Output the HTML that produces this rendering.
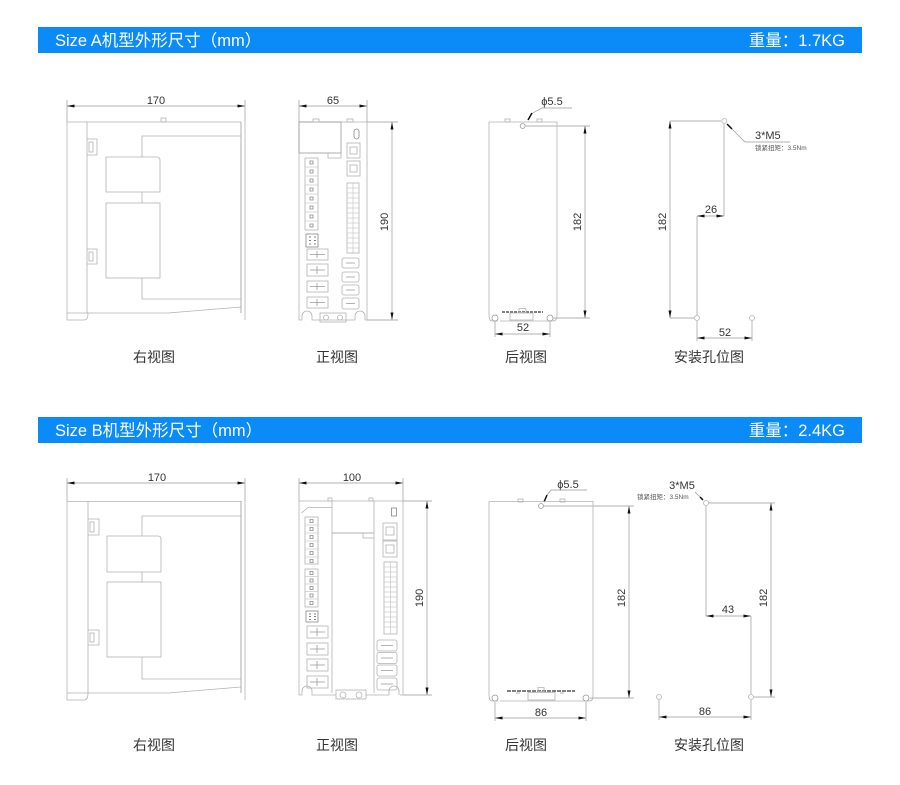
<!DOCTYPE html>
<html><head><meta charset="utf-8"><style>
html,body{margin:0;padding:0;background:#fff;}
svg{display:block;}
text{font-family:"Liberation Sans","Noto Sans CJK SC",sans-serif;}
</style></head><body>
<svg width="900" height="785" viewBox="0 0 900 785" xmlns="http://www.w3.org/2000/svg">
<defs>
<marker id="a" viewBox="0 0 10 4" refX="10" refY="2" markerWidth="8" markerHeight="3" markerUnits="userSpaceOnUse" orient="auto-start-reverse"><path d="M0,0 L10,2 L0,4 z" fill="#111"/></marker>
</defs>
<rect width="900" height="785" fill="#fff"/>

<!-- Headers -->
<rect x="38" y="27" width="824" height="26" fill="#0a8bf8"/>
<text x="55" y="46" font-size="16.5" fill="#fff">Size A机型外形尺寸（mm）</text>
<text x="845" y="46" font-size="16.5" fill="#fff" text-anchor="end">重量：1.7KG</text>
<rect x="38" y="417" width="824" height="26" fill="#0a8bf8"/>
<text x="55" y="436" font-size="16.5" fill="#fff">Size B机型外形尺寸（mm）</text>
<text x="845" y="436" font-size="16.5" fill="#fff" text-anchor="end">重量：2.4KG</text>

<!-- Labels -->
<g font-size="14" fill="#333" text-anchor="middle">
<text x="154" y="362">右视图</text><text x="337" y="362">正视图</text><text x="526" y="362">后视图</text><text x="709" y="362">安装孔位图</text>
<text x="154" y="750">右视图</text><text x="337" y="750">正视图</text><text x="526" y="750">后视图</text><text x="709" y="750">安装孔位图</text>
</g>

<g font-size="11" fill="#333" text-anchor="middle">
<text x="156" y="104">170</text>
<text x="333" y="104">65</text>
<text x="552" y="105">ϕ5.5</text>
<text x="523" y="331">52</text>
<text x="711" y="213">26</text>
<text x="725" y="336">52</text>
<text transform="translate(388,222) rotate(-90)">190</text>
<text transform="translate(581,222) rotate(-90)">182</text>
<text transform="translate(666,222) rotate(-90)">182</text>

<text x="157" y="481">170</text>
<text x="352" y="481">100</text>
<text x="568" y="488">ϕ5.5</text>
<text x="541" y="716">86</text>
<text x="728" y="613">43</text>
<text x="705" y="715">86</text>
<text x="682" y="489">3*M5</text>
<text transform="translate(423,598) rotate(-90)">190</text>
<text transform="translate(625,598) rotate(-90)">182</text>
<text transform="translate(767,598) rotate(-90)">182</text>
</g>
<text x="755" y="139" font-size="11" fill="#333">3*M5</text>
<text x="755" y="150" font-size="6.5" fill="#555">锁紧扭矩：3.5Nm</text>
<text x="637" y="499" font-size="6.5" fill="#555">锁紧扭矩：3.5Nm</text>

<!-- Dimension lines -->
<g stroke="#999" stroke-width="0.7" fill="none">
<line x1="67" y1="106" x2="245" y2="106" marker-start="url(#a)" marker-end="url(#a)"/>
<line x1="67" y1="100" x2="67" y2="122"/><line x1="245" y1="100" x2="245" y2="122"/>
<line x1="299" y1="106" x2="367" y2="106" marker-start="url(#a)" marker-end="url(#a)"/>
<line x1="299" y1="100" x2="299" y2="122"/><line x1="367" y1="100" x2="367" y2="122"/>
<line x1="392" y1="122" x2="392" y2="320" marker-start="url(#a)" marker-end="url(#a)"/>
<line x1="367" y1="122" x2="398" y2="122"/><line x1="367" y1="320" x2="398" y2="320"/>
<line x1="585" y1="126" x2="585" y2="318" marker-start="url(#a)" marker-end="url(#a)"/>
<line x1="526" y1="126" x2="590" y2="126"/><line x1="553" y1="318" x2="590" y2="318"/>
<line x1="495" y1="334" x2="550" y2="334" marker-start="url(#a)" marker-end="url(#a)"/>
<line x1="495" y1="321" x2="495" y2="337"/><line x1="550" y1="321" x2="550" y2="337"/>
<polyline points="531,114 542,108 572,108"/>
<!-- install A -->
<line x1="697" y1="216" x2="724" y2="216" marker-start="url(#a)" marker-end="url(#a)"/>
<line x1="724" y1="124" x2="724" y2="216"/><line x1="697" y1="216" x2="697" y2="315"/>
<line x1="670" y1="121" x2="670" y2="318" marker-start="url(#a)" marker-end="url(#a)"/>
<line x1="670" y1="121" x2="721" y2="121"/><line x1="670" y1="318" x2="694" y2="318"/>
<line x1="697" y1="338" x2="752" y2="338" marker-start="url(#a)" marker-end="url(#a)"/>
<line x1="697" y1="321" x2="697" y2="341"/><line x1="752" y1="321" x2="752" y2="341"/>
<polyline points="732,129 745,142 790,142"/>

<!-- B -->
<line x1="67" y1="483" x2="245" y2="483" marker-start="url(#a)" marker-end="url(#a)"/>
<line x1="67" y1="478" x2="67" y2="501"/><line x1="245" y1="478" x2="245" y2="501"/>
<line x1="299" y1="483" x2="403" y2="483" marker-start="url(#a)" marker-end="url(#a)"/>
<line x1="299" y1="478" x2="299" y2="501"/><line x1="403" y1="478" x2="403" y2="501"/>
<line x1="427" y1="501" x2="427" y2="695" marker-start="url(#a)" marker-end="url(#a)"/>
<line x1="403" y1="501" x2="432" y2="501"/><line x1="403" y1="695" x2="432" y2="695"/>
<line x1="629" y1="506" x2="629" y2="698" marker-start="url(#a)" marker-end="url(#a)"/>
<line x1="544" y1="506" x2="634" y2="506"/><line x1="590" y1="698" x2="634" y2="698"/>
<line x1="495" y1="718" x2="586" y2="718" marker-start="url(#a)" marker-end="url(#a)"/>
<line x1="495" y1="702" x2="495" y2="721"/><line x1="586" y1="702" x2="586" y2="721"/>
<polyline points="547,495 551,490 587,490"/>
<!-- install B -->
<line x1="706" y1="616" x2="751" y2="616" marker-start="url(#a)" marker-end="url(#a)"/>
<line x1="706" y1="506" x2="706" y2="616"/><line x1="751" y1="616" x2="751" y2="694"/>
<line x1="771" y1="503" x2="771" y2="697" marker-start="url(#a)" marker-end="url(#a)"/>
<line x1="709" y1="503" x2="775" y2="503"/><line x1="754" y1="697" x2="775" y2="697"/>
<line x1="659" y1="717" x2="751" y2="717" marker-start="url(#a)" marker-end="url(#a)"/>
<line x1="659" y1="700" x2="659" y2="720"/><line x1="751" y1="700" x2="751" y2="720"/>
<line x1="700" y1="497" x2="695" y2="492"/>
</g>
<!-- leader arrow tips -->
<g stroke="#111" stroke-width="1.5">
<line x1="528" y1="120" x2="532" y2="113"/>
<line x1="727" y1="124" x2="732" y2="129"/>
<line x1="544" y1="502" x2="547" y2="495"/>
<line x1="703" y1="500" x2="700" y2="497"/>
</g>

<!-- Drawings -->
<g stroke="#b3b3b3" stroke-width="0.8" fill="none">
<!-- Right view A -->
<line x1="67" y1="122" x2="241" y2="122"/>
<path d="M67,122 V320 H84 Q88,320 88,313"/>
<line x1="67" y1="313" x2="168" y2="313"/>
<line x1="168" y1="313" x2="241" y2="307"/>
<line x1="87" y1="122" x2="87" y2="313"/>
<line x1="241" y1="122" x2="241" y2="313" stroke="#999"/>
<line x1="245" y1="122" x2="245" y2="320"/>
<rect x="161" y="118" width="5" height="4"/>
<path d="M87,139 H97 V155 H87"/><rect x="89" y="142" width="4" height="10"/>
<path d="M87,249 H97 V264 H87"/><rect x="89" y="252" width="4" height="9"/>
<path d="M106,157 H157 Q160,157 160,160 V192 H106 Z"/>
<rect x="106" y="203" width="54" height="75"/>
<path d="M241,136 H142 V157 M142,192 V203 M142,278 V299 H241"/>

<!-- Front view A -->
<path d="M299,122 V320 H302 M367,122 V320 H365 M299,122 H367"/>
<path d="M302,320 V316 A5,5 0 0 1 312,316 V320 H355 V316 A5,5 0 0 1 365,316 V320"/>
<rect x="299" y="122" width="42" height="31" stroke="#999"/>
<path d="M328,153 V158 H341 V153"/>
<rect x="313" y="119" width="6" height="3"/><rect x="347" y="119" width="6" height="3"/>
<rect x="354" y="129" width="5" height="10" rx="2.5" stroke="#888"/>
<rect x="347" y="143" width="13" height="15"/><rect x="350" y="147" width="7" height="7"/>
<rect x="347" y="161" width="13" height="15"/><rect x="350" y="165" width="7" height="7"/>
<rect x="347" y="183" width="12" height="70"/>
<path d="M353,183 V253 M347,188 H359 M347,193 H359 M347,198 H359 M347,203 H359 M347,208 H359 M347,213 H359 M347,218 H359 M347,223 H359 M347,228 H359 M347,233 H359 M347,238 H359 M347,243 H359 M347,248 H359" stroke="#ccc"/>
<rect x="305" y="158" width="13" height="72"/>
<path d="M305,167 H318 M305,176 H318 M305,185 H318 M305,194 H318 M305,203 H318 M305,212 H318 M305,221 H318" stroke="#ccc"/>
<path d="M310,161 h3 v3 h-3z M310,170 h3 v3 h-3z M310,179 h3 v3 h-3z M310,188 h3 v3 h-3z M310,197 h3 v3 h-3z M310,206 h3 v3 h-3z M310,215 h3 v3 h-3z M310,224 h3 v3 h-3z" stroke="#888"/>
<rect x="306" y="234" width="12" height="13" stroke="#888"/>
<path d="M309,237 h2 M314,237 h2 M309,240.5 h2 M314,240.5 h2 M309,244 h2 M314,244 h2" stroke="#555"/>
<rect x="307" y="249" width="21" height="11"/><rect x="307" y="264" width="21" height="12"/>
<rect x="307" y="281" width="21" height="11"/><rect x="307" y="297" width="21" height="11"/>
<path d="M310,254.5 H325 M310,270 H325 M310,286.5 H325 M310,302.5 H325 M317,251 V258 M317,266 V274 M317,283 V290 M317,299 V306" stroke="#999"/>
<rect x="342" y="258" width="17" height="10" rx="2"/><rect x="342" y="272" width="17" height="10" rx="2"/>
<rect x="342" y="285" width="17" height="10" rx="2"/><rect x="342" y="298" width="17" height="11" rx="2"/>
<path d="M346,263 H355 M346,277 H355 M346,290 H355 M346,303.5 H355" stroke="#999"/>
<rect x="320" y="313" width="26" height="9"/>
<circle cx="326" cy="317.5" r="2.5"/><circle cx="340" cy="317.5" r="2.5"/>

<!-- Back view A -->
<path d="M489,122 H557 V315 M489,122 V315 M492,321 H498 M553,321 H500 M489,315 Q489,321 492,321 M557,315 Q557,321 553,321"/>
<rect x="505" y="119" width="5" height="3"/><rect x="537" y="119" width="5" height="3"/>
<circle cx="522.7" cy="126" r="2.5" stroke="#999"/>
<circle cx="495" cy="318" r="3" stroke="#999"/><circle cx="550" cy="318" r="3" stroke="#999"/>
<line x1="502" y1="312" x2="543" y2="312" stroke="#555" stroke-width="1.4" stroke-dasharray="3,1"/>
<rect x="519" y="308.5" width="7" height="4"/>
<rect x="510" y="313" width="23" height="7"/>
<circle cx="724.3" cy="121" r="2.5"/>
<circle cx="697" cy="318" r="2.5"/><circle cx="752" cy="318" r="2.5"/>

<!-- Right view B -->
<line x1="67" y1="501.5" x2="241" y2="501.5"/>
<path d="M67,501 V700 H84 Q88,700 88,693"/>
<line x1="67" y1="693" x2="168" y2="693"/>
<line x1="168" y1="693" x2="241" y2="687"/>
<line x1="88" y1="501" x2="88" y2="693"/>
<line x1="241" y1="501" x2="241" y2="693" stroke="#999"/>
<line x1="245" y1="501" x2="245" y2="700"/>
<path d="M88,519 H99 V535 H88"/><rect x="90" y="522" width="4" height="10"/>
<path d="M88,630 H99 V645 H88"/><rect x="90" y="633" width="4" height="9"/>
<path d="M107,536 H158 Q161,536 161,539 V572 H107 Z"/>
<rect x="107" y="582" width="54" height="75"/>
<path d="M241,516 H142 V536 M142,572 V582 M142,657 V679 H241"/>

<!-- Front view B -->
<path d="M299,501 V695 H302 M403,501 V695 H400 M299,501 H403"/>
<path d="M302,695 V691 A5,5 0 0 1 312,691 V695 H336 M366,695 H389 V691 A5,5 0 0 1 399,691 V695"/>
<line x1="332" y1="501" x2="332" y2="693"/>
<line x1="374" y1="501" x2="374" y2="693"/>
<line x1="332" y1="533" x2="374" y2="533" stroke="#999"/>
<path d="M363,533 V538 H374"/>
<path d="M301.5,513 L308,507.5 H332"/>
<rect x="328" y="498" width="4" height="3"/><rect x="369" y="498" width="4" height="3"/>
<rect x="391.5" y="508" width="5" height="8" stroke="#888"/>
<rect x="383" y="523" width="14" height="17"/><rect x="386" y="527" width="8" height="8"/>
<rect x="383" y="541" width="14" height="16"/><rect x="386" y="545" width="8" height="8"/>
<rect x="384" y="562" width="13" height="72"/>
<path d="M390.5,562 V634 M384,567 H397 M384,572 H397 M384,577 H397 M384,582 H397 M384,587 H397 M384,592 H397 M384,597 H397 M384,602 H397 M384,607 H397 M384,612 H397 M384,617 H397 M384,622 H397 M384,627 H397" stroke="#ccc"/>
<rect x="305" y="517" width="13" height="47"/>
<path d="M305,525 H318 M305,533 H318 M305,541 H318 M305,549 H318 M305,557 H318" stroke="#ccc"/>
<path d="M310,519.5 h3 v3 h-3z M310,527.5 h3 v3 h-3z M310,535.5 h3 v3 h-3z M310,543.5 h3 v3 h-3z M310,551.5 h3 v3 h-3z M310,559.5 h3 v3 h-3z" stroke="#888"/>
<rect x="305" y="569" width="13" height="38"/>
<path d="M305,576.5 H318 M305,584 H318 M305,591.5 H318 M305,599 H318" stroke="#ccc"/>
<path d="M310,571.5 h3 v3 h-3z M310,579 h3 v3 h-3z M310,586.5 h3 v3 h-3z M310,594 h3 v3 h-3z M310,601.5 h3 v3 h-3z" stroke="#888"/>
<rect x="306" y="611" width="12" height="11" stroke="#888"/>
<path d="M309,614 h2 M314,614 h2 M309,616.5 h2 M314,616.5 h2 M309,619.5 h2 M314,619.5 h2" stroke="#555"/>
<rect x="307" y="626" width="21" height="12"/><rect x="307" y="643" width="21" height="12"/>
<rect x="307" y="659" width="21" height="12"/><rect x="307" y="676" width="21" height="12"/>
<path d="M310,632 H325 M310,649 H325 M310,665 H325 M310,682 H325 M317,628 V636 M317,645 V653 M317,661 V669 M317,678 V686" stroke="#999"/>
<rect x="377" y="640" width="20" height="11" rx="2"/><rect x="377" y="652.5" width="20" height="11" rx="2"/>
<rect x="377" y="665" width="20" height="11" rx="2"/><rect x="377" y="678" width="20" height="12" rx="2"/>
<path d="M381,645.5 H393 M381,658 H393 M381,670.5 H393 M381,684 H393" stroke="#999"/>
<rect x="336" y="690" width="30" height="9"/>
<circle cx="343" cy="695" r="3"/><circle cx="359" cy="695" r="3"/>

<!-- Back view B -->
<path d="M489,501.5 H593 V695 M489,501.5 V695 M492,701 H498 M590,701 H500 M489,695 Q489,701 492,701 M593,695 Q593,701 590,701"/>
<rect x="518" y="499" width="5" height="3"/><rect x="560" y="499" width="5" height="3"/>
<circle cx="541" cy="506" r="2.5" stroke="#999"/>
<circle cx="495" cy="698" r="3" stroke="#999"/><circle cx="586" cy="698" r="3" stroke="#999"/>
<line x1="507" y1="691" x2="575" y2="691" stroke="#555" stroke-width="1.4" stroke-dasharray="4,1"/>
<rect x="538" y="687.5" width="6" height="4"/>
<rect x="528" y="692.5" width="27" height="7.5"/>
<path d="M516,693 h4 M560,693 h4" stroke="#999"/>
<circle cx="706" cy="503" r="2.5"/>
<circle cx="659" cy="697" r="2.5"/><circle cx="751" cy="697" r="2.5"/>
</g>
</svg>
</body></html>
